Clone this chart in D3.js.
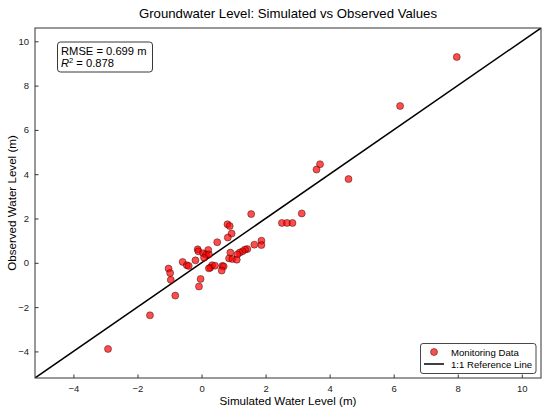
<!DOCTYPE html>
<html>
<head>
<meta charset="utf-8">
<script src="https://cdn.jsdelivr.net/npm/d3@7"></script>
<style>
  body { margin: 0; background: #fff; }
  text { font-family: "Liberation Sans", Arial, sans-serif; }
</style>
</head>
<body>
<div class="chart"></div>
<script>
// simulated vs observed water level (m)
const simulated = [7.97, 6.20, 3.70, 3.59, 4.59, 3.13, 1.55, 2.51, 2.67, 2.84,
  0.81, 0.88, 0.94, 0.82, 0.49, 1.87, 1.87, 1.65, 1.43, 1.36,
  1.28, 1.19, 1.12, 0.90, 0.86, 0.96, 1.10, -0.12, -0.10, 0.21,
  0.05, 0.14, 0.23, 0.08, -0.59, -0.46, -0.40, -0.19, 0.33, 0.27,
  0.23, 0.42, 0.65, 0.69, 0.63, -1.03, -0.98, -0.96, -0.03, -0.08,
  -0.82, -1.61, -2.92];
const observed = [9.29, 7.08, 4.45, 4.21, 3.78, 2.23, 2.20, 1.80, 1.80, 1.80,
  1.74, 1.66, 1.32, 1.14, 0.93, 1.00, 0.80, 0.82, 0.62, 0.60,
  0.52, 0.46, 0.38, 0.46, 0.20, 0.17, 0.14, 0.61, 0.52, 0.58,
  0.43, 0.38, 0.38, 0.23, 0.04, -0.11, -0.14, 0.11, -0.11, -0.22,
  -0.25, -0.13, -0.14, -0.16, -0.35, -0.26, -0.46, -0.77, -0.73, -1.07,
  -1.48, -2.37, -3.89];
const ticks = [-4, -2, 0, 2, 4, 6, 8, 10];
const axisRange = [-5.2, 10.6];
const rmse = 0.699;
const r2 = 0.878;

const data = simulated.map((s, i) => ({ sim: s, obs: observed[i] }));

const width = 550;
const height = 411;
const margin = { top: 28, right: 9, bottom: 33, left: 35 };

const svg = d3
  .select('.chart')
  .append('svg')
  .attr('width', width)
  .attr('height', height);

const x = d3.scaleLinear().domain(axisRange).range([margin.left, width - margin.right]);
const y = d3.scaleLinear().domain(axisRange).range([height - margin.bottom, margin.top]);

// axes, ticks pointing inward like matplotlib's "in" style
svg
  .append('g')
  .attr('transform', `translate(0,${height - margin.bottom})`)
  .call(d3.axisBottom(x).tickValues(ticks).tickSizeInner(-3.5).tickSizeOuter(0).tickPadding(7))
  .call((g) => g.select('.domain').remove())
  .call((g) => g.selectAll('text').attr('font-size', 9.5).attr('fill', '#222'));

svg
  .append('g')
  .attr('transform', `translate(${margin.left},0)`)
  .call(d3.axisLeft(y).tickValues(ticks).tickSizeInner(-3.5).tickSizeOuter(0).tickPadding(6))
  .call((g) => g.select('.domain').remove())
  .call((g) => g.selectAll('text').attr('font-size', 9.5).attr('fill', '#222'));

svg.selectAll('.tick line').attr('stroke', '#333');

// 1:1 reference line
const clipId = 'plot-clip';
svg
  .append('clipPath')
  .attr('id', clipId)
  .append('rect')
  .attr('x', margin.left)
  .attr('y', margin.top)
  .attr('width', width - margin.left - margin.right)
  .attr('height', height - margin.top - margin.bottom);

svg
  .append('line')
  .attr('clip-path', `url(#${clipId})`)
  .attr('x1', x(axisRange[0]))
  .attr('y1', y(axisRange[0]))
  .attr('x2', x(axisRange[1]))
  .attr('y2', y(axisRange[1]))
  .attr('stroke', '#000')
  .attr('stroke-width', 1.5);

svg
  .selectAll('circle.pt')
  .data(data)
  .enter()
  .append('circle')
  .attr('class', 'pt')
  .attr('cx', (d) => x(d.sim))
  .attr('cy', (d) => y(d.obs))
  .attr('r', 3.5)
  .attr('fill', 'rgba(255,0,0,0.7)')
  .attr('stroke', 'rgba(40,0,0,0.75)')
  .attr('stroke-width', 0.6);

// frame
svg
  .append('rect')
  .attr('x', margin.left)
  .attr('y', margin.top)
  .attr('width', width - margin.left - margin.right)
  .attr('height', height - margin.top - margin.bottom)
  .attr('fill', 'none')
  .attr('stroke', '#333')
  .attr('stroke-width', 1);

// title and axis labels
svg
  .append('text')
  .attr('x', (margin.left + width - margin.right) / 2)
  .attr('y', 18)
  .attr('text-anchor', 'middle')
  .attr('font-size', 13.2)
  .text('Groundwater Level: Simulated vs Observed Values');

svg
  .append('text')
  .attr('x', (margin.left + width - margin.right) / 2)
  .attr('y', 405)
  .attr('text-anchor', 'middle')
  .attr('font-size', 11.6)
  .text('Simulated Water Level (m)');

svg
  .append('text')
  .attr('transform', `translate(12,${(margin.top + height - margin.bottom) / 2}) rotate(-90)`)
  .attr('text-anchor', 'middle')
  .attr('dy', '0.35em')
  .attr('font-size', 11.6)
  .text('Observed Water Level (m)');

// stats box
const stats = svg.append('g');
stats
  .append('rect')
  .attr('x', 57.5)
  .attr('y', 42)
  .attr('width', 95)
  .attr('height', 30)
  .attr('rx', 3)
  .attr('fill', '#fff')
  .attr('stroke', '#222')
  .attr('stroke-width', 0.9);
stats
  .append('text')
  .attr('x', 61)
  .attr('y', 54.5)
  .attr('font-size', 11.2)
  .text('RMSE = ' + rmse.toFixed(3) + ' m');
const r2Text = stats.append('text').attr('x', 61).attr('y', 67).attr('font-size', 11.2);
r2Text.append('tspan').attr('font-style', 'italic').text('R');
r2Text.append('tspan').attr('font-size', 7.5).attr('dy', -4.5).text('2');
r2Text.append('tspan').attr('dy', 4.5).text(' = ' + r2.toFixed(3));

// legend
const legend = svg.append('g');
legend
  .append('rect')
  .attr('x', 420.5)
  .attr('y', 343.5)
  .attr('width', 115.5)
  .attr('height', 30)
  .attr('rx', 2.5)
  .attr('fill', '#fff')
  .attr('stroke', '#333')
  .attr('stroke-width', 0.9);
legend
  .append('circle')
  .attr('cx', 434)
  .attr('cy', 352)
  .attr('r', 3.5)
  .attr('fill', 'rgba(255,0,0,0.7)')
  .attr('stroke', 'rgba(40,0,0,0.75)')
  .attr('stroke-width', 0.6);
legend
  .append('text')
  .attr('x', 451)
  .attr('y', 355.5)
  .attr('font-size', 9.6)
  .text('Monitoring Data');
legend
  .append('line')
  .attr('x1', 424)
  .attr('x2', 444)
  .attr('y1', 364)
  .attr('y2', 364)
  .attr('stroke', '#000')
  .attr('stroke-width', 1.5);
legend
  .append('text')
  .attr('x', 451)
  .attr('y', 367.8)
  .attr('font-size', 9.6)
  .text('1:1 Reference Line');
</script>
</body>
</html>
